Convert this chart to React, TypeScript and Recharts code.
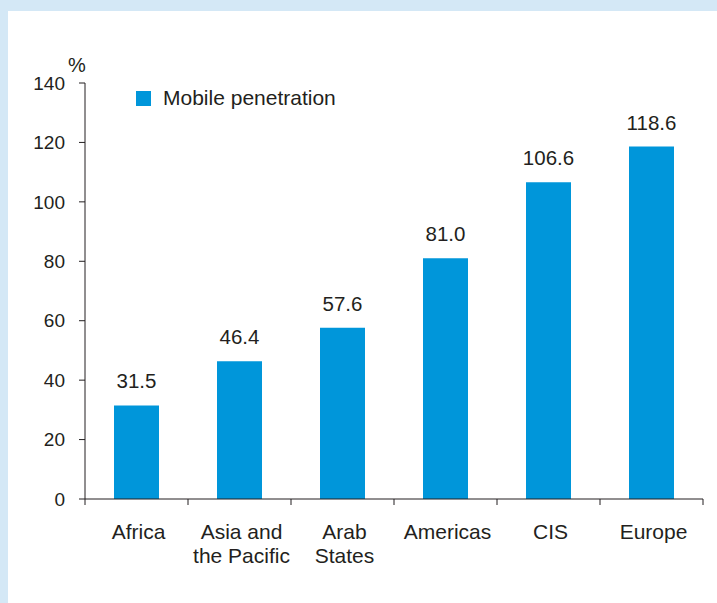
import { BarChart, Bar, XAxis, YAxis, Legend, LabelList } from 'recharts'

const regions = ['Africa', 'Asia and the Pacific', 'Arab States', 'Americas', 'CIS', 'Europe']
const regionLines = [['Africa'], ['Asia and', 'the Pacific'], ['Arab', 'States'], ['Americas'], ['CIS'], ['Europe']]
const penetration = [31.5, 46.4, 57.6, 81.0, 106.6, 118.6]
const yTicks = [0, 20, 40, 60, 80, 100, 120, 140]

const W = 717
const H = 603
const M = { top: 83, right: 14, bottom: 0, left: 0 }
const Y_AXIS_W = 85
const X_AXIS_H = 104
const STEP = (W - M.left - M.right - Y_AXIS_W) / regions.length

const INK = '#231F20'
const BLUE = '#0096DA'
const FONT = '"Liberation Sans", Arial, Helvetica, sans-serif'

const data = regions.map((r, i) => ({ region: r, value: penetration[i] }))

function RegionTick(props: any) {
  const { x, y, index } = props
  const lines = regionLines[index] || []
  const last = index === regions.length - 1
  return (
    <g>
      <line x1={x - STEP / 2} x2={x - STEP / 2} y1={y - 6} y2={y} stroke={INK} />
      {last && <line x1={x + STEP / 2} x2={x + STEP / 2} y1={y - 6} y2={y} stroke={INK} />}
      <text x={x + 2} y={y} textAnchor="middle" fill={INK} fontSize={21} fontFamily={FONT}>
        {lines.map((l, i) => (
          <tspan key={l} x={x + 2} dy={i === 0 ? 34 : 24}>{l}</tspan>
        ))}
      </text>
    </g>
  )
}

function LegendBox() {
  return (
    <div style={{ display: 'flex', alignItems: 'center', fontFamily: FONT, fontSize: 21, color: INK }}>
      <span style={{ display: 'inline-block', width: 15, height: 15, background: BLUE }} />
      <span style={{ marginLeft: 12 }}>Mobile penetration</span>
    </div>
  )
}

export default function App() {
  return (
    <div style={{ position: 'absolute', left: 0, top: 0, width: W, height: H, background: '#D4E8F6' }}>
      <div style={{ position: 'absolute', left: 8, top: 11, right: 0, bottom: 0, background: '#fff' }} />
      <div style={{ position: 'absolute', left: 0, top: 0 }}>
        <BarChart width={W} height={H} data={data} margin={M}>
          <XAxis
            dataKey="region"
            height={X_AXIS_H}
            interval={0}
            tick={<RegionTick />}
            tickLine={false}
            tickSize={6}
            tickMargin={0}
            axisLine={{ stroke: INK }}
          />
          <YAxis
            width={Y_AXIS_W}
            domain={[0, 140]}
            ticks={yTicks}
            tickSize={6}
            tickMargin={14}
            tickLine={{ stroke: INK }}
            axisLine={{ stroke: INK }}
            tick={{ fill: INK, fontSize: 19, fontFamily: FONT }}
            label={({ viewBox }: any) => (
              <text x={viewBox.x + viewBox.width - 8} y={viewBox.y - 11} textAnchor="middle" fill={INK} fontSize={20} fontFamily={FONT}>%</text>
            )}
          />
          <Legend
            layout="vertical"
            align="center"
            verticalAlign="middle"
            wrapperStyle={{ top: 86, left: 136, width: 'auto' }}
            content={<LegendBox />}
          />
          <Bar dataKey="value" fill={BLUE} barSize={45} isAnimationActive={false}>
            <LabelList
              dataKey="value"
              position="top"
              offset={17}
              formatter={(v: any) => Number(v).toFixed(1)}
              style={{ fill: INK, fontSize: 20.5, fontFamily: FONT }}
            />
          </Bar>
        </BarChart>
      </div>
    </div>
  )
}
